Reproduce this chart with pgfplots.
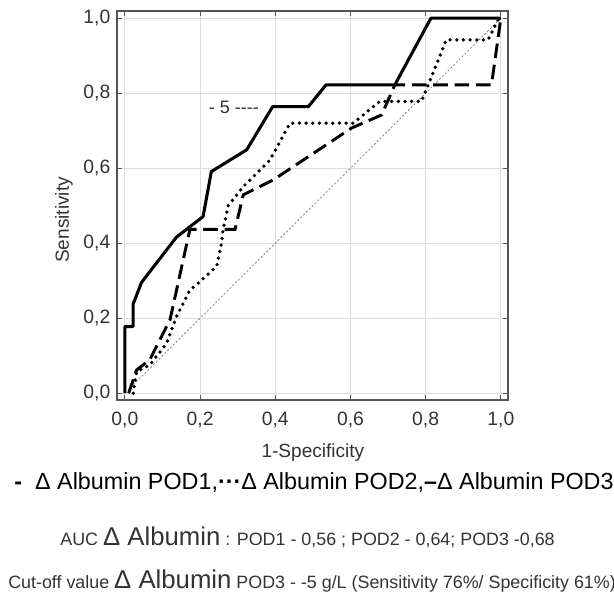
\documentclass[border=0pt]{standalone}
\usepackage{pgfplots}
\pgfplotsset{compat=1.18}
\usepackage{fontspec}
\setmainfont{Liberation Sans}
\definecolor{txt}{HTML}{333333}
\definecolor{gridc}{HTML}{DCDCDC}
\definecolor{axc}{HTML}{555555}
\begin{document}
\begin{tikzpicture}
\path[use as bounding box] (-87.75pt,-150pt) rectangle (372.75pt,300pt);
\begin{axis}[
  scale only axis,
  width=293.25pt, height=291.75pt,
  at={(0,0)}, anchor=south west,
  xmin=-0.021, xmax=1.019, ymin=-0.018, ymax=1.019,
  xtick={0,0.2,...,1.0}, ytick={0,0.2,...,1.0},
  tick pos=both, tick align=inside,
  major tick length=4pt,
  grid=major,
  major grid style={gridc, line width=0.6pt},
  axis line style={axc, line width=0.8pt},
  tick style={axc, line width=0.6pt},
  /pgf/number format/assume math mode=true,
  /pgf/number format/fixed,
  /pgf/number format/fixed zerofill,
  /pgf/number format/precision=1,
  /pgf/number format/use comma,
  xticklabel style={yshift=-5.5pt},
  yticklabel style={xshift=-1.5pt},
  ticklabel style={font=\fontsize{14.5}{16}\selectfont, text=txt},
  xlabel={1-Specificity},
  ylabel={Sensitivity},
  label style={font=\fontsize{14.3}{16}\selectfont, text=txt},
  xlabel style={at={(axis description cs:0.501,-0.136)}, anchor=center},
  ylabel style={at={(axis description cs:-0.1356,0.463)}, anchor=center},
  clip=false,
]
% chance diagonal
\addplot[gray, line width=0.6pt, dash pattern=on 1.5pt off 1.5pt] coordinates {(0,0) (1,1)};
% POD1 dashed
\addplot[black, line width=2.2pt, dash pattern=on 11pt off 5pt] coordinates {
(0.01,0.0) (0.031,0.062) (0.066,0.089) (0.12,0.196) (0.173,0.437) (0.293,0.437)
(0.315,0.529) (0.395,0.569) (0.603,0.707) (0.683,0.742) (0.718,0.822) (0.975,0.822)
(0.997,0.978) (1,1)};
% POD2 dotted
\addplot[black, line width=2.8pt, line cap=round, dash pattern=on 0pt off 5pt] coordinates {
(0.022,0.0) (0.031,0.058) (0.066,0.075) (0.111,0.133) (0.137,0.204) (0.173,0.275)
(0.2,0.298) (0.244,0.338) (0.257,0.4) (0.261,0.435) (0.275,0.5) (0.315,0.551)
(0.386,0.622) (0.439,0.72) (0.607,0.72) (0.678,0.778) (0.789,0.778) (0.855,0.942)
(0.966,0.942) (0.993,0.996) (1,1)};
% POD3 solid
\addplot[black, line width=2.3pt, line join=round] coordinates {
(0,0) (0,0.178) (0.022,0.178) (0.022,0.238) (0.044,0.295) (0.09,0.355) (0.137,0.416)
(0.208,0.471) (0.23,0.591) (0.324,0.649) (0.393,0.764) (0.488,0.764) (0.535,0.822)
(0.718,0.822) (0.814,1.0) (1.0,1.0)};
\node[text=txt, font=\fontsize{13.5}{15}\selectfont, anchor=center] at (axis cs:0.29,0.763) {- 5 -{}-{}-{}-};
\end{axis}
\node[anchor=center, font=\fontsize{17.5}{20}\selectfont] at (147.75pt,-62.25pt)
  {{\bfseries -}\ \ Δ Albumin POD1,{\bfseries ···}Δ Albumin POD2,{\bfseries –}Δ Albumin POD3};
\node[anchor=center, text=txt, font=\fontsize{13.4}{15}\selectfont] at (142.9pt,-103.2pt)
  {AUC {\fontsize{19.3}{21}\selectfont Δ Albumin} : POD1 - 0,56 ; POD2 - 0,64; POD3 -0,68};
\node[anchor=west, inner sep=0pt, text=txt, font=\fontsize{13.4}{15}\selectfont] at (-81.75pt,-135.75pt)
  {Cut-off value {\fontsize{19.3}{21}\selectfont Δ Albumin} POD3 - -5 g/L (Sensitivity 76\%/ Specificity 61\%)};
\end{tikzpicture}
\end{document}
